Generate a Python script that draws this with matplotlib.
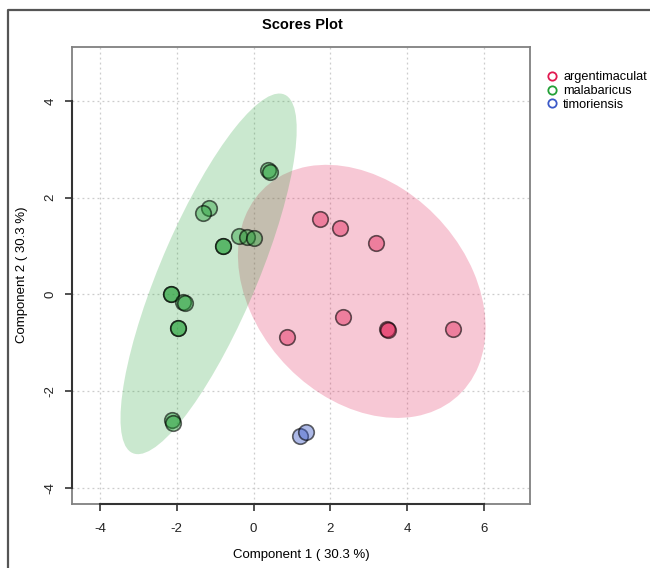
import numpy as np
import matplotlib
matplotlib.use("Agg")
import matplotlib.pyplot as plt
from matplotlib.patches import Ellipse
from matplotlib.lines import Line2D

plt.rcParams['font.family'] = ['Liberation Sans', 'DejaVu Sans']
plt.rcParams['axes.unicode_minus'] = False

groups = ["argentimaculat", "malabaricus", "timoriensis"]

arg_x = [1.73, 2.25, 3.19, 2.33, 3.47, 3.50, 5.19, 0.88]
arg_y = [1.56, 1.38, 1.07, -0.47, -0.72, -0.73, -0.72, -0.88]

mal_x = [0.37, 0.43, -1.16, -1.32, -0.80, -0.80, -0.38, -0.17, 0.01,
         -2.15, -2.15, -1.84, -1.79, -1.97, -1.97, -2.13, -2.10]
mal_y = [2.58, 2.54, 1.79, 1.69, 1.00, 1.00, 1.21, 1.19, 1.17,
         0.01, 0.01, -0.16, -0.18, -0.69, -0.69, -2.60, -2.66]

tim_x = [1.21, 1.36]
tim_y = [-2.93, -2.85]

xticks = [-4, -2, 0, 2, 4, 6]
yticks = [-4, -2, 0, 2, 4]

colors = ["#E11950", "#23A037", "#3C5AC8"]

fig = plt.figure(figsize=(6.5, 5.68), dpi=100)
ax = fig.add_axes([72/650, 1-504/568, (530-72)/650, (504-47)/568])
ax.set_xlim(-4.73, 7.2)
ax.set_ylim(-4.34, 5.12)

# confidence ellipses (95%)
chi = np.sqrt(5.991)
for xs, ys, c in [(arg_x, arg_y, colors[0]), (mal_x, mal_y, colors[1])]:
    pts = np.column_stack([xs, ys])
    mu = pts.mean(axis=0)
    cov = np.cov(pts, rowvar=False)
    vals, vecs = np.linalg.eigh(cov)
    order = vals.argsort()[::-1]
    vals, vecs = vals[order], vecs[:, order]
    ang = np.degrees(np.arctan2(vecs[1, 0], vecs[0, 0]))
    e = Ellipse(mu, 2*chi*np.sqrt(vals[0]), 2*chi*np.sqrt(vals[1]), angle=ang,
                facecolor=c, alpha=0.24, edgecolor='none', zorder=1)
    ax.add_patch(e)

for t in xticks:
    ax.axvline(t, color='#cccccc', lw=0.9, ls=(0, (1.5, 2.5)), zorder=0.5)
for t in yticks:
    ax.axhline(t, color='#cccccc', lw=0.9, ls=(0, (1.5, 2.5)), zorder=0.5)

for xs, ys, c in [(arg_x, arg_y, colors[0]), (mal_x, mal_y, colors[1]), (tim_x, tim_y, colors[2])]:
    ax.scatter(xs, ys, s=125, facecolor=matplotlib.colors.to_rgba(c, 0.42),
               edgecolor=(0, 0, 0, 0.6), linewidth=1.2, zorder=3)

for s in ax.spines.values():
    s.set_color('#808080')
    s.set_linewidth(1.3)

ax.set_xticks(xticks)
ax.set_yticks(yticks)
ax.tick_params(axis='both', length=5, width=1.2, color='#333333', labelsize=9.5, labelcolor='#222222')
ax.tick_params(axis='x', pad=9)
ax.tick_params(axis='y', pad=6)
for lab in ax.get_yticklabels():
    lab.set_rotation(90)
    lab.set_va('center')

# dark axis lines between outer ticks (R style)
ax.plot([xticks[0], xticks[-1]], [0, 0], transform=ax.get_xaxis_transform(),
        color='#333333', lw=1.5, clip_on=False, zorder=5)
ax.plot([0, 0], [yticks[0], yticks[-1]], transform=ax.get_yaxis_transform(),
        color='#333333', lw=1.5, clip_on=False, zorder=5)

fig.text(302/650, 1-25/568, "Scores Plot", ha='center', va='center', fontsize=10.5, fontweight='bold')
fig.text(301/650, 1-555/568, "Component 1 ( 30.3 %)", ha='center', va='center', fontsize=9.5)
fig.text(22/650, 1-275/568, "Component 2 ( 30.3 %)", ha='center', va='center', fontsize=9.5, rotation=90)

# legend
handles = [Line2D([], [], marker='o', ls='none', markerfacecolor='none',
                  markeredgecolor=c, markersize=6, markeredgewidth=1.3) for c in colors]
fig.legend(handles, groups, loc='upper left', bbox_to_anchor=(539/650, 1-66/568),
           frameon=False, fontsize=9.2, handletextpad=0.3, labelspacing=0.15,
           handlelength=1.2, borderaxespad=0)

# outer figure frame
fig.add_artist(Line2D([8/650, 8/650, 1], [0, 1-10/568, 1-10/568], transform=fig.transFigure,
                      color='#555555', lw=1.6))

fig.savefig("out.png", dpi=100)
